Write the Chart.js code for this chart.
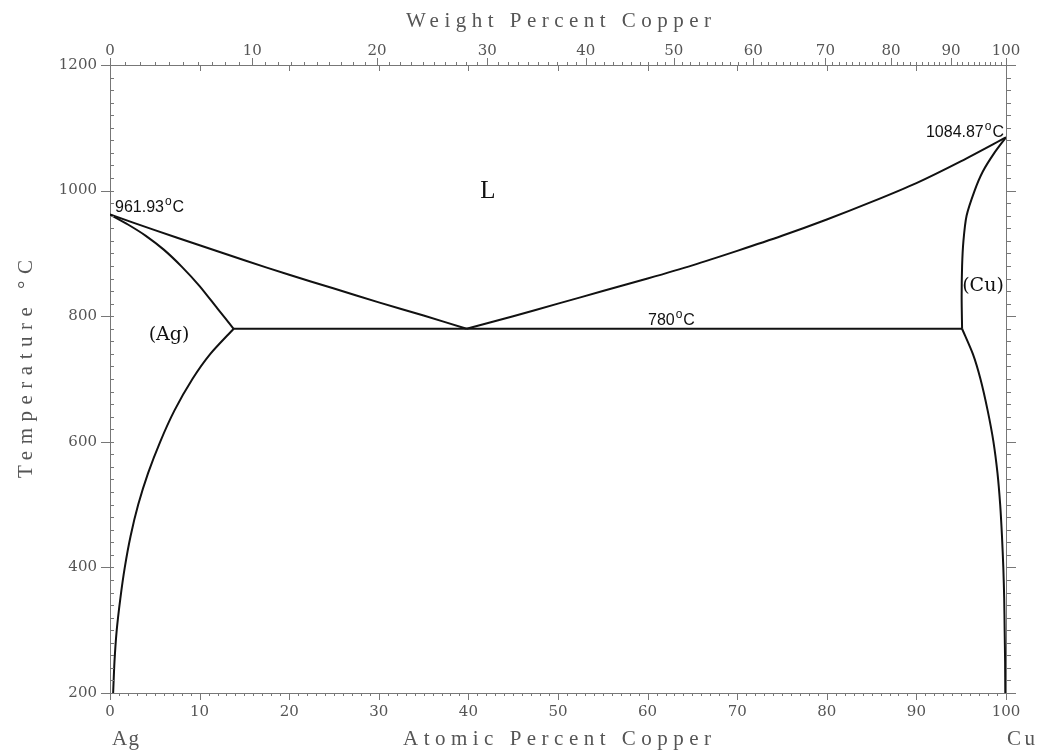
<!DOCTYPE html>
<html><head><meta charset="utf-8">
<script src="https://cdn.jsdelivr.net/npm/chart.js@4.4.1/dist/chart.umd.min.js"></script>
<style>html,body{margin:0;padding:0;background:#fff;}#wrap{width:1041px;height:753px;}</style>
</head><body><div id="wrap"><canvas id="c" width="1041" height="753"></canvas></div>
<script>
// ---- data (atomic % Cu, temperature °C) ----
const liqAgAt = [0, 5, 10, 15, 20, 25, 30, 35, 39.8];
const liqAgT  = [961.93, 937, 913, 889, 866, 844, 822, 801, 780];
const liqCuAt = [39.8, 45, 50, 55, 60, 65, 70, 75, 80, 85, 90, 95, 100];
const liqCuT  = [780, 800, 820, 840, 860, 881, 904, 928, 954, 982, 1012, 1047, 1084.87];
const solAgAt = [0, 2, 4, 6, 8, 10, 12, 13.8];
const solAgT  = [961.93, 946, 928, 906, 879, 848, 812, 780];
const solvAgAt = [13.8, 11.2, 9.2, 7.2, 5.6, 4.25, 3.15, 2.3, 1.65, 1.15, 0.75, 0.5, 0.35];
const solvAgT  = [780, 740, 700, 650, 600, 550, 500, 450, 400, 350, 300, 250, 200];
const solCuAt = [95.1, 95.05, 95.1, 95.25, 95.6, 96.5, 97.4, 98.7, 100];
const solCuT  = [780, 830, 880, 920, 960, 1000, 1030, 1060, 1084.87];
const solvCuAt = [95.1, 96.3, 97.15, 97.95, 98.6, 99.05, 99.35, 99.55, 99.7, 99.8, 99.85, 99.9, 99.92];
const solvCuT  = [780, 740, 700, 650, 600, 550, 500, 450, 400, 350, 300, 250, 200];
const eutAt = [13.8, 95.1];
const eutT  = [780, 780];

// ---- tick labels ----
const atTicks = [0, 10, 20, 30, 40, 50, 60, 70, 80, 90, 100];
const wtTicks = [0, 10, 20, 30, 40, 50, 60, 70, 80, 90, 100];
const tTicks  = [200, 400, 600, 800, 1000, 1200];

const wt2at = w => { const c = w / 63.546, s = (100 - w) / 107.868; return c / (c + s) * 100; };
const pts = (xs, ys) => xs.map((x, i) => ({x, y: ys[i]}));

const lineDS = (label, xs, ys, tension) => ({
  label, data: pts(xs, ys), showLine: true, pointRadius: 0, borderColor: '#111',
  borderWidth: 2, tension, fill: false, xAxisID: 'x', yAxisID: 'y'
});

const tickFont = {family: 'DejaVu Serif', size: 15};
const axisColor = '#777';

const decor = {
  id: 'decor',
  afterDraw(chart) {
    const ctx = chart.ctx, a = chart.chartArea;
    const sx = chart.scales.x, sy = chart.scales.y;
    ctx.save();
    ctx.strokeStyle = axisColor; ctx.lineWidth = 1;
    const seg = (x1, y1, x2, y2) => { ctx.beginPath(); ctx.moveTo(x1, y1); ctx.lineTo(x2, y2); ctx.stroke(); };
    const X = v => Math.round(sx.getPixelForValue(v)) + 0.5;
    const Y = v => Math.round(sy.getPixelForValue(v)) + 0.5;
    // bottom axis (atomic %)
    for (let v = 0; v <= 100; v++) seg(X(v), a.bottom, X(v), a.bottom + (v % 10 ? 3 : 7));
    // top axis: weight % ticks upward, atomic % tens downward
    for (let w = 0; w <= 100; w++) { const px = X(wt2at(w)); seg(px, a.top, px, a.top - (w % 10 ? 3 : 7)); }
    for (let v = 0; v <= 100; v += 10) seg(X(v), a.top, X(v), a.top + 6);
    // left axis
    for (let t = 200; t <= 1200; t += 20) {
      if (t % 200 === 0) seg(a.left - 9, Y(t), a.left + 4, Y(t));
      else seg(a.left, Y(t), a.left + 4, Y(t));
    }
    // right axis
    for (let t = 200; t <= 1200; t += 20) seg(a.right, Y(t), a.right + (t % 200 ? 5 : 10), Y(t));

    // titles with letter spacing
    const spaced = (text, x0, y, width, font, color) => {
      ctx.font = font; ctx.fillStyle = color; ctx.textAlign = 'left'; ctx.textBaseline = 'alphabetic';
      ctx.letterSpacing = '0px';
      const w = ctx.measureText(text).width;
      const sp = Math.max(0, (width - w) / (text.length - 1));
      ctx.letterSpacing = sp + 'px';
      ctx.fillText(text, x0, y);
      ctx.letterSpacing = '0px';
    };
    const titleFont = '21px "Liberation Serif"';
    spaced('Weight Percent Copper', 406, 27, 305, titleFont, '#555');
    spaced('Atomic Percent Copper', 403, 745, 308, titleFont, '#555');
    spaced('Ag', 112, 745, 27, titleFont, '#555');
    spaced('Cu', 1007, 745, 28, titleFont, '#555');
    ctx.save();
    ctx.translate(32, 478);
    ctx.rotate(-Math.PI / 2);
    spaced('Temperature \u00B0C', 0, 0, 218, titleFont, '#555');
    ctx.restore();

    // annotations
    const degLabel = (num, x0, y, alignRight) => {
      ctx.textAlign = 'left'; ctx.textBaseline = 'alphabetic'; ctx.fillStyle = '#111';
      ctx.font = '16px "Liberation Sans"';
      const wn = ctx.measureText(num).width, wc = ctx.measureText('C').width;
      ctx.font = '12px "Liberation Sans"';
      const wo = ctx.measureText('o').width;
      const total = wn + 1 + wo + 1 + wc;
      let x = alignRight ? x0 - total : x0;
      ctx.font = '16px "Liberation Sans"'; ctx.fillText(num, x, y); x += wn + 1;
      ctx.font = '12px "Liberation Sans"'; ctx.fillText('o', x, y - 7); x += wo + 1;
      ctx.font = '16px "Liberation Sans"'; ctx.fillText('C', x, y);
    };
    degLabel('961.93', 115, 212, false);
    degLabel('1084.87', 1004, 137, true);
    degLabel('780', 648, 325, false);

    ctx.fillStyle = '#111'; ctx.textBaseline = 'alphabetic'; ctx.textAlign = 'center';
    ctx.font = '25px "Liberation Serif"';
    ctx.fillText('L', 488, 198);
    ctx.font = '19px "DejaVu Serif"';
    ctx.fillText('(Ag)', 169, 340);
    ctx.fillText('(Cu)', 983, 291);
    ctx.restore();
  }
};

new Chart(document.getElementById('c'), {
  type: 'scatter',
  data: {
    datasets: [
      lineDS('Liquidus (Ag side)', liqAgAt, liqAgT, 0.25),
      lineDS('Liquidus (Cu side)', liqCuAt, liqCuT, 0.25),
      lineDS('Solidus (Ag)', solAgAt, solAgT, 0.25),
      lineDS('Solvus (Ag)', solvAgAt, solvAgT, 0.25),
      lineDS('Solidus (Cu)', solCuAt, solCuT, 0.25),
      lineDS('Solvus (Cu)', solvCuAt, solvCuT, 0.25),
      lineDS('Eutectic 780 °C', eutAt, eutT, 0)
    ]
  },
  options: {
    responsive: false, animation: false, devicePixelRatio: 1,
    layout: {padding: 0},
    plugins: {legend: {display: false}, tooltip: {enabled: false}},
    scales: {
      x: {
        type: 'linear', position: 'bottom', min: 0, max: 100,
        afterBuildTicks: s => { s.ticks = atTicks.map(v => ({value: v})); },
        ticks: {font: tickFont, color: '#555', padding: 10, maxRotation: 0, autoSkip: false,
                callback: (v, i) => String(atTicks[i])},
        grid: {display: false, drawTicks: false},
        border: {display: true, color: axisColor, width: 1},
        afterFit: s => { s.height = 60; }
      },
      x2: {
        type: 'linear', position: 'top', min: 0, max: 100,
        afterBuildTicks: s => { s.ticks = wtTicks.map(w => ({value: wt2at(w)})); },
        ticks: {font: tickFont, color: '#555', padding: 5, maxRotation: 0, autoSkip: false,
                callback: (v, i) => String(wtTicks[i])},
        grid: {display: false, drawTicks: false},
        border: {display: true, color: axisColor, width: 1},
        afterFit: s => { s.height = 65; }
      },
      y: {
        type: 'linear', position: 'left', min: 200, max: 1200,
        afterBuildTicks: s => { s.ticks = tTicks.map(v => ({value: v})); },
        ticks: {font: tickFont, color: '#555', padding: 13, autoSkip: false,
                callback: (v, i) => String(tTicks[i])},
        grid: {display: false, drawTicks: false},
        border: {display: true, color: axisColor, width: 1},
        afterFit: s => { s.width = 110; }
      },
      y2: {
        type: 'linear', position: 'right', min: 200, max: 1200,
        ticks: {display: false},
        grid: {display: false, drawTicks: false},
        border: {display: true, color: axisColor, width: 1},
        afterFit: s => { s.width = 35; }
      }
    }
  },
  plugins: [decor]
});
</script></body></html>
